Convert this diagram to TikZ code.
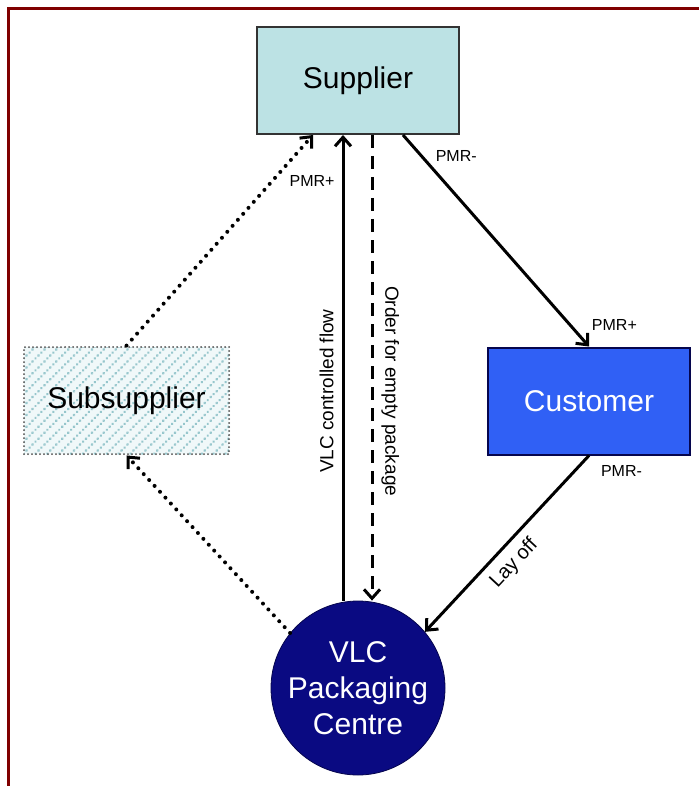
\documentclass[tikz,border=0pt]{standalone}
\usepackage{fontspec}
\setmainfont{Liberation Sans}
\usetikzlibrary{positioning, arrows.meta, patterns.meta}

\definecolor{framered}{RGB}{128,0,0}
\definecolor{supfill}{RGB}{188,226,228}
\definecolor{hatchcol}{RGB}{150,198,204}
\definecolor{hatchbg}{RGB}{240,248,249}
\definecolor{custfill}{RGB}{48,96,245}
\definecolor{vlcfill}{RGB}{10,10,130}

\begin{document}
\begin{tikzpicture}[node distance=160pt and 115.5pt, on grid, >={Straight Barb[length=4.5pt,width=8pt]}]
        \tikzset{
            box/.style={rectangle, minimum width=101pt, minimum height=53.5pt, line width=1pt, font=\fontsize{15}{18}\selectfont},
            flow/.style={->, line width=1.5pt},
            dotflow/.style={-{Straight Barb[length=4.5pt,width=8pt,line width=1.5pt]}, line width=2pt, line cap=round, dash pattern=on 0pt off 4pt},
            dashflow/.style={->, line width=1.5pt, dash pattern=on 6.5pt off 4pt},
            pmr/.style={font=\fontsize{8}{9}\selectfont},
            lbl/.style={font=\fontsize{9.5}{11}\selectfont, inner sep=4pt}
        }
        \useasboundingbox (0,0) rectangle (349.5pt,-393pt);
        \draw[framered, line width=1.5pt] (4.25pt,-393pt) -- (4.25pt,-4.25pt) -- (349.5pt,-4.25pt);

        % Nodes
        \node[box, draw=black!80, fill=supfill] (sup) at (179pt,-40.25pt) {Supplier};
        \node[box, minimum width=102.5pt, draw=black!70, line cap=round, dash pattern=on 0pt off 2pt,
              preaction={fill=hatchbg}, pattern={Lines[angle=45,distance=4.2pt,line width=1.4pt]}, pattern color=hatchcol]
              (subsup) [below left=160pt and 115.75pt of sup] {Subsupplier};
        \node[box, draw=vlcfill!60!black, fill=custfill, text=white] (cust) [below right=160.25pt and 115.5pt of sup] {Customer};
        \node[circle, draw=vlcfill!60!black, fill=vlcfill, minimum size=87pt, inner sep=0pt, text=white, align=center,
              font=\fontsize{15}{18}\selectfont] (vlc) [below=303.75pt of sup] {VLC\\Packaging\\Centre};

        % Flows
        \path
            (subsup.north) edge[dotflow] node[pmr, pos=0.78, anchor=west, xshift=4.5pt] {PMR+} ([xshift=-22.5pt]sup.south)
            ([xshift=-7.5pt]vlc.north) edge[flow] node[lbl, pos=0.45, sloped, above] {VLC controlled flow} ([xshift=-7.5pt]sup.south)
            ([xshift=7pt]sup.south) edge[dashflow] node[lbl, pos=0.55, sloped, above] {Order for empty package} ([xshift=7pt]vlc.north)
            ([xshift=22.5pt]sup.south) edge[flow] node[pmr, pos=0.1, anchor=west, xshift=3pt] {PMR-}
                node[pmr, pos=0.9, anchor=west, xshift=6.7pt] {PMR+} (cust.north)
            (cust.south) edge[flow] node[pmr, pos=0.09, anchor=west, xshift=9.3pt] {PMR-}
                node[lbl, font=\fontsize{10}{12}\selectfont, pos=0.54, sloped, below] {Lay off} (vlc.40)
            (vlc.141) edge[dotflow] (subsup.south);
\end{tikzpicture}
\end{document}
